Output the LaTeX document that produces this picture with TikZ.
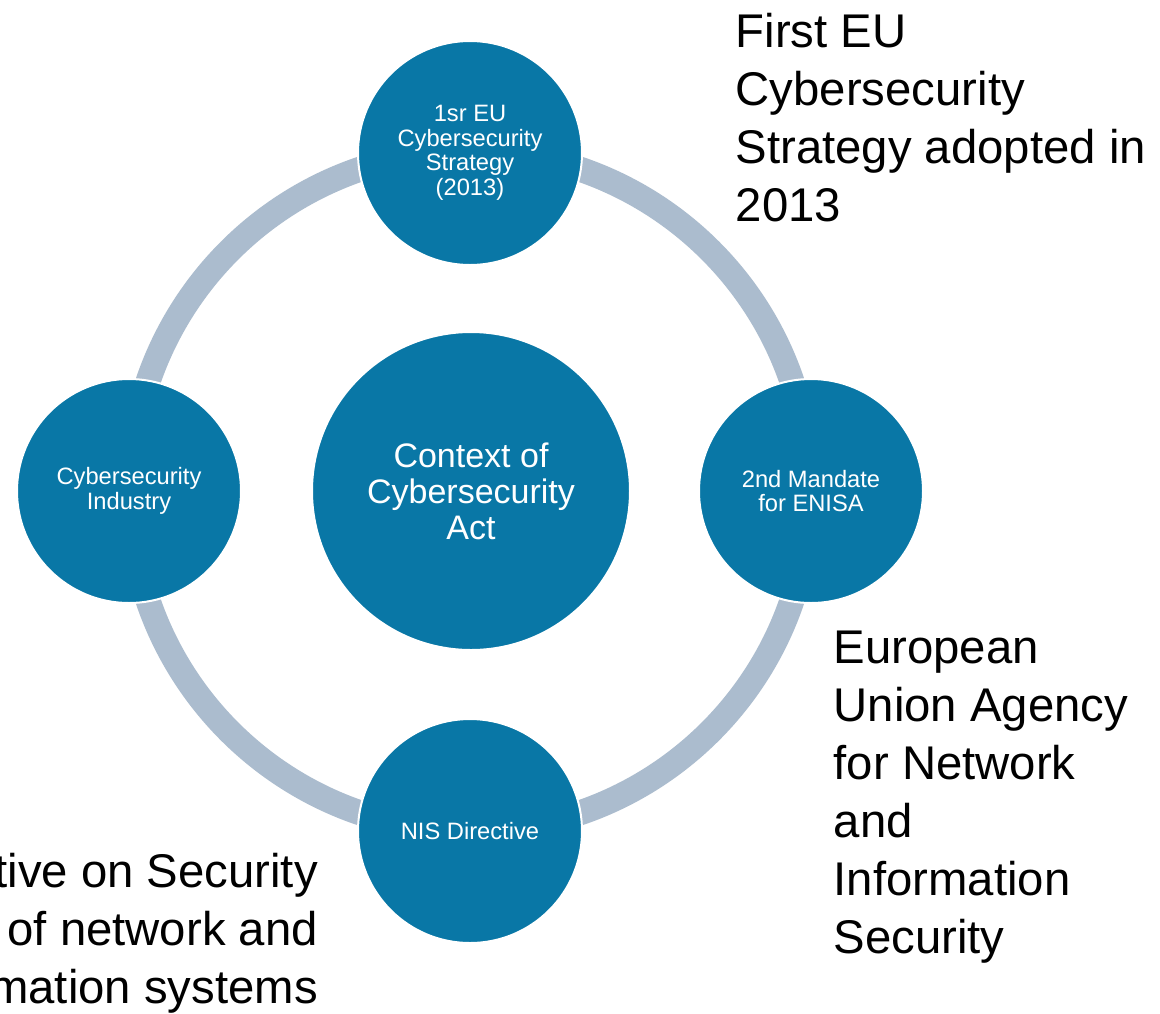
\documentclass[tikz,border=0pt]{standalone}
\usepackage{fontspec}
\setmainfont{Liberation Sans}
\definecolor{ringcol}{RGB}{171,188,206}
\definecolor{circcol}{RGB}{9,119,166}
\begin{document}
\begin{tikzpicture}[x=1pt,y=-1pt,
  smallcirc/.style={circle,fill=circcol,draw=white,line width=2pt,minimum size=224pt,inner sep=0pt,
    text=white,align=center,font=\fontsize{23.7}{24.5}\selectfont},
  bigcirc/.style={circle,fill=circcol,draw=white,line width=2pt,minimum size=318pt,inner sep=0pt,
    text=white,align=center,font=\fontsize{34}{36}\selectfont},
  bigtext/.style={inner sep=0pt,font=\fontsize{47.3}{58}\selectfont,text=black}]
\clip (0,0) rectangle (1160,1013);
\fill[white] (0,0) rectangle (1160,1013);
\coordinate (c) at (470,491);
\draw[ringcol,line width=25pt] (c) circle[radius=340];
\node[bigcirc] (ctx) at (471,491) {Context of\\Cybersecurity\\Act};
\node[smallcirc] (top) at (470,153) {1sr EU\\Cybersecurity\\Strategy\\(2013)};
\node[smallcirc] (right) at (811,491) {2nd Mandate\\for ENISA};
\node[smallcirc] (bottom) at (470,831) {NIS Directive};
\node[smallcirc] (left) at (129,491) {Cybersecurity\\Industry};
\node[bigtext,anchor=north west,align=left] (t1) at (735.5,13) {First EU\\Cybersecurity\\Strategy adopted in\\2013};
\node[bigtext,anchor=north west,align=left] (t2) at (833.5,631) {European\\Union Agency\\for Network\\and\\Information\\Security};
\node[bigtext,anchor=north east,align=right] (t3) at (318,853) {tive on Security\\of network and\\mation systems};
\end{tikzpicture}
\end{document}
